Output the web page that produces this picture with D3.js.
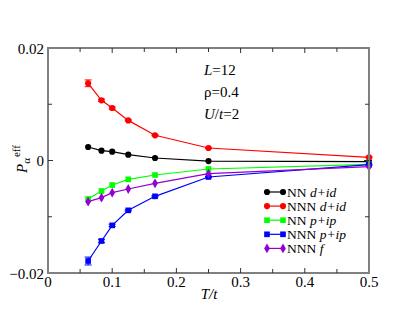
<!DOCTYPE html>
<html>
<head>
<meta charset="utf-8">
<script src="https://cdn.jsdelivr.net/npm/d3@7"></script>
<style>
  body { margin: 0; background: #fff; }
</style>
</head>
<body>
<div id="chart"></div>
<script>
// temperatures T/t
var temps = [0.0625, 0.0833, 0.1, 0.125, 0.1667, 0.25, 0.5];

var nnD   = [0.0024, 0.00175, 0.00157, 0.00103, 0.00044, -0.0001, -0.0002];
var nnnD  = [0.01372, 0.0107, 0.00933, 0.00713, 0.00448, 0.00222, 0.00057];
var nnP   = [-0.00684, -0.00542, -0.00436, -0.00335, -0.00258, -0.00151, -0.00068];
var nnnP  = [-0.01787, -0.01431, -0.01153, -0.00886, -0.00637, -0.00293, -0.00075];
var nnnF  = [-0.00732, -0.0066, -0.00572, -0.00507, -0.00406, -0.00234, -0.0011];

var errNnnD = [0.0006, 0.0002, 0.0002, 0.0001, 0.0001, 0.0001, 0.0001];
var errNnnP = [0.0007, 0.0003, 0.0002, 0.0001, 0.0001, 0.0001, 0.0001];
var errZero = [0, 0, 0, 0, 0, 0, 0];

var xTicks = [0, 0.1, 0.2, 0.3, 0.4, 0.5];
var xMinor = [0.05, 0.15, 0.25, 0.35, 0.45];
var yTicks = [-0.02, 0, 0.02];
var yMinor = [-0.01, 0.01];

var series = [
  {name: 'NN', tag: 'd+id', vals: nnD, err: errZero, color: '#000000', sym: 'circle'},
  {name: 'NNN', tag: 'd+id', vals: nnnD, err: errNnnD, color: '#ff0000', sym: 'circle'},
  {name: 'NN', tag: 'p+ip', vals: nnP, err: errZero, color: '#00ff00', sym: 'square'},
  {name: 'NNN', tag: 'p+ip', vals: nnnP, err: errNnnP, color: '#0000ff', sym: 'square'},
  {name: 'NNN', tag: 'f', vals: nnnF, err: errZero, color: '#9400d3', sym: 'diamond'}
];

(function() {
  var width = 415, height = 321;
  var pl = 48, pr = 369, pt = 48, pb = 273;
  var serif = "'Liberation Serif', Tinos, 'Times New Roman', 'DejaVu Serif', serif";

  var x = d3.scaleLinear().domain([0, 0.5]).range([pl, pr]);
  var y = d3.scaleLinear().domain([-0.02, 0.02]).range([pb, pt]);

  var svg = d3.select('#chart').append('svg')
    .attr('width', width)
    .attr('height', height)
    .style('font-family', serif);

  var symGen = {
    circle: d3.symbol().type(d3.symbolCircle).size(30),
    square: d3.symbol().type(d3.symbolSquare).size(32),
    diamond: d3.symbol().type(d3.symbolDiamond).size(28)
  };

  var line = d3.line()
    .x(function(d) { return x(d[0]); })
    .y(function(d) { return y(d[1]); });

  series.forEach(function(s) {
    var pts = temps.map(function(t, i) { return [t, s.vals[i], s.err[i]]; });
    var g = svg.append('g');
    g.append('path')
      .attr('d', line(pts))
      .attr('fill', 'none')
      .attr('stroke', s.color)
      .attr('stroke-width', 1.2);
    g.selectAll('.err')
      .data(pts.filter(function(d) { return d[2] > 0; }))
      .enter().append('path')
      .attr('d', function(d) {
        var px = x(d[0]), y0 = y(d[1] - d[2]), y1 = y(d[1] + d[2]);
        return 'M' + px + ',' + y0 + 'V' + y1 +
          'M' + (px - 3.5) + ',' + y0 + 'H' + (px + 3.5) +
          'M' + (px - 3.5) + ',' + y1 + 'H' + (px + 3.5);
      })
      .attr('stroke', s.color)
      .attr('stroke-width', 1)
      .attr('fill', 'none');
    g.selectAll('.pt')
      .data(pts)
      .enter().append('path')
      .attr('transform', function(d) { return 'translate(' + x(d[0]) + ',' + y(d[1]) + ')'; })
      .attr('d', symGen[s.sym]())
      .attr('fill', s.color);
  });

  // frame
  svg.append('rect')
    .attr('x', pl).attr('y', pt)
    .attr('width', pr - pl).attr('height', pb - pt)
    .attr('fill', 'none')
    .attr('stroke', '#808080')
    .attr('stroke-width', 2);

  // ticks on all four sides, pointing in
  var tk = svg.append('g').attr('stroke', '#333').attr('stroke-width', 1);
  function xTick(v, len) {
    tk.append('line').attr('x1', x(v)).attr('x2', x(v)).attr('y1', pb).attr('y2', pb - len);
    tk.append('line').attr('x1', x(v)).attr('x2', x(v)).attr('y1', pt).attr('y2', pt + len);
  }
  function yTick(v, len) {
    tk.append('line').attr('y1', y(v)).attr('y2', y(v)).attr('x1', pl).attr('x2', pl + len);
    tk.append('line').attr('y1', y(v)).attr('y2', y(v)).attr('x1', pr).attr('x2', pr - len);
  }
  xTicks.forEach(function(v) { if (v > 0 && v < 0.5) xTick(v, 5); });
  xMinor.forEach(function(v) { xTick(v, 4); });
  yTicks.forEach(function(v) { if (v === 0) yTick(v, 5); });
  yMinor.forEach(function(v) { yTick(v, 4); });

  // tick labels
  svg.selectAll('.xl')
    .data(xTicks)
    .enter().append('text')
    .attr('x', function(d) { return x(d); })
    .attr('y', 287)
    .attr('text-anchor', 'middle')
    .attr('font-size', 15)
    .text(function(d) { return d === 0 ? '0' : d3.format('.1f')(d); });

  svg.selectAll('.yl')
    .data(yTicks)
    .enter().append('text')
    .attr('x', 44)
    .attr('y', function(d) { return y(d) + 5.5; })
    .attr('text-anchor', 'end')
    .attr('font-size', 15)
    .text(function(d) { return d === 0 ? '0' : d3.format('.2f')(d); });

  // axis titles
  svg.append('text')
    .attr('x', 209).attr('y', 299)
    .attr('text-anchor', 'middle')
    .attr('font-size', 15)
    .attr('font-style', 'italic')
    .text('T/t');

  var yt = svg.append('text')
    .attr('transform', 'translate(27,173) rotate(-90)')
    .attr('font-size', 15);
  yt.append('tspan').attr('font-style', 'italic').text('P');
  yt.append('tspan').attr('font-size', 11).attr('dy', 3).text('α');
  yt.append('tspan').attr('font-size', 11).attr('dy', -10).attr('dx', 1).text('eff');

  // parameter notes
  var notes = [
    [['L', true], ['=12', false]],
    [['ρ=0.4', false]],
    [['U', true], ['/', false], ['t', true], ['=2', false]]
  ];
  var noteY = [75, 97, 119];
  notes.forEach(function(parts, i) {
    var t = svg.append('text')
      .attr('x', 204).attr('y', noteY[i])
      .attr('font-size', 15);
    parts.forEach(function(p) {
      t.append('tspan').attr('font-style', p[1] ? 'italic' : 'normal').text(p[0]);
    });
  });

  // legend
  var leg = svg.append('g');
  series.forEach(function(s, i) {
    var ly = 192 + i * 14.1;
    leg.append('line')
      .attr('x1', 267).attr('x2', 283)
      .attr('y1', ly).attr('y2', ly)
      .attr('stroke', s.color).attr('stroke-width', 1.2);
    [267, 283].forEach(function(px) {
      leg.append('path')
        .attr('transform', 'translate(' + px + ',' + ly + ')')
        .attr('d', symGen[s.sym]())
        .attr('fill', s.color);
    });
    var t = leg.append('text')
      .attr('x', 287).attr('y', ly + 4.5)
      .attr('font-size', 13.5);
    t.append('tspan').text(s.name + ' ');
    t.append('tspan').attr('font-style', 'italic').text(s.tag);
  });
})();
</script>
</body>
</html>
